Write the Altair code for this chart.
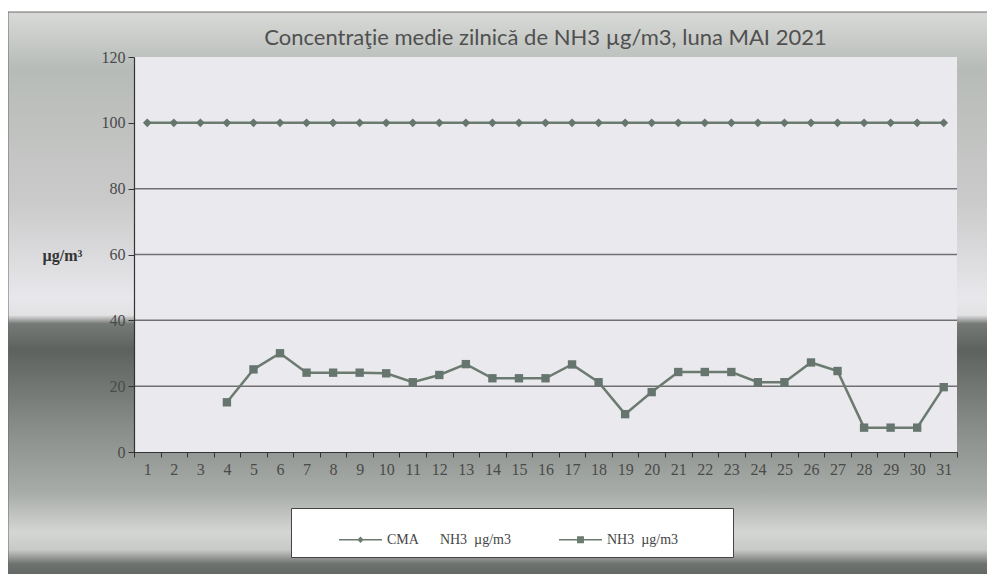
import altair as alt
import pandas as pd

# ---- data ----
days = [1, 2, 3, 4, 5, 6, 7, 8, 9, 10, 11, 12, 13, 14, 15, 16, 17, 18, 19, 20,
        21, 22, 23, 24, 25, 26, 27, 28, 29, 30, 31]
cma = [100, 100, 100, 100, 100, 100, 100, 100, 100, 100, 100, 100, 100, 100, 100, 100,
       100, 100, 100, 100, 100, 100, 100, 100, 100, 100, 100, 100, 100, 100, 100]
nh3 = [None, None, None, 15.1, 25.1, 30.0, 24.1, 24.1, 24.1, 23.9, 21.2, 23.4, 26.7,
       22.4, 22.4, 22.4, 26.6, 21.2, 11.5, 18.2, 24.3, 24.3, 24.3, 21.2, 21.2, 27.2,
       24.6, 7.4, 7.4, 7.4, 19.7]
y_ticks = [0, 20, 40, 60, 80, 100, 120]
grid_vals = [20, 40, 60, 80]
NB = "\u00a0"
name_cma = "CMA" + NB * 6 + "NH3" + NB * 2 + "µg/m3"
name_nh3 = "NH3" + NB * 2 + "µg/m3"
title_text = "Concentraţie medie zilnică de NH3 µg/m3, luna MAI 2021"
y_title = "µg/m³"

# ---- layout ----
W, H = 823, 395
PL, PT, PR, PB = 126, 49, 30, 122

line_col = "#6c7b70"
pt_col = "#66766f"

df = pd.DataFrame({
    "day": days + days,
    "value": cma + nh3,
    "series": [name_cma] * len(days) + [name_nh3] * len(days),
})
df_cma = df[df["series"] == name_cma]
df_nh3 = df[df["series"] == name_nh3]

X = alt.X(
    "day:O",
    scale=alt.Scale(type="band", paddingInner=0, paddingOuter=0, domain=days),
    axis=alt.Axis(
        title=None, labelAngle=0, tickBand="extent", grid=False,
        labelFont="Liberation Serif", labelFontSize=16, labelColor="#4a4a4a",
        domainColor="#333333", domainWidth=1.2, tickColor="#333333", tickSize=5,
        labelPadding=4, zindex=1,
    ),
)
Y = alt.Y(
    "value:Q",
    scale=alt.Scale(domain=[0, 120]),
    axis=alt.Axis(
        values=y_ticks, grid=False, title=y_title, titleAngle=0,
        titleFont="Liberation Serif", titleFontWeight="bold", titleFontSize=16,
        titleColor="#333333", titleX=-72, titleY=198, titleAlign="center",
        titleBaseline="middle",
        labelFont="Liberation Serif", labelFontSize=16, labelColor="#4a4a4a",
        domainColor="#333333", domainWidth=1.2, tickColor="#333333", tickSize=6,
        labelPadding=3, zindex=1,
    ),
)

gradient = {
    "gradient": "linear", "x1": 0, "y1": 0, "x2": 0, "y2": 1,
    "stops": [
        {"offset": 0.0, "color": "#d8dad7"},
        {"offset": 0.10, "color": "#b7bbb7"},
        {"offset": 0.33, "color": "#cacaca"},
        {"offset": 0.50, "color": "#e8e8ec"},
        {"offset": 0.530, "color": "#e2e2e4"},
        {"offset": 0.545, "color": "#767a76"},
        {"offset": 0.59, "color": "#5e625e"},
        {"offset": 0.73, "color": "#8a8e8a"},
        {"offset": 0.84, "color": "#a8aca8"},
        {"offset": 0.91, "color": "#d4d6d4"},
        {"offset": 0.94, "color": "#c8cac8"},
        {"offset": 0.965, "color": "#6e726e"},
        {"offset": 1.0, "color": "#5c605c"},
    ],
}

bg = alt.Chart(alt.Data(values=[{"k": 1}])).mark_rect(
    fill=gradient, stroke="#6a6a6a", strokeWidth=1
).encode(
    x=alt.value(-PL), x2=alt.value(W + PR + 10),
    y=alt.value(-PT + 4), y2=alt.value(H + PB + 10),
)

plot_bg = alt.Chart(alt.Data(values=[{"k": 1}])).mark_rect(
    fill="#eae9ee"
).encode(x=alt.value(0), x2=alt.value(W), y=alt.value(0), y2=alt.value(H))

grid = alt.Chart(alt.Data(values=[{"value": v} for v in grid_vals])).mark_rule(
    color="#707070", strokeWidth=1.5
).encode(y=Y)

cma_line = alt.Chart(df_cma).mark_line(color=line_col, strokeWidth=2.5).encode(x=X, y=Y)
cma_pts = alt.Chart(df_cma).mark_point(
    shape="diamond", filled=True, size=75, color=pt_col, opacity=1
).encode(x=X, y=Y)
nh3_line = alt.Chart(df_nh3).mark_line(color=line_col, strokeWidth=2.5).encode(x=X, y=Y)
nh3_pts = alt.Chart(df_nh3).mark_point(
    shape="square", filled=True, size=70, color=pt_col, opacity=1
).encode(x=X, y=Y)

# legend symbols: a thin bar (the line) plus the marker, all filled
path_cma = ("M-1,-0.035L1,-0.035L1,0.035L-1,0.035Z"
            "M0,-0.15L0.15,0L0,0.15L-0.15,0Z")
path_nh3 = ("M-1,-0.035L1,-0.035L1,0.035L-1,0.035Z"
            "M-0.16,-0.16L0.16,-0.16L0.16,0.16L-0.16,0.16Z")

legend_layer = alt.Chart(df).mark_point(
    filled=True, opacity=0, color=line_col
).encode(
    x=X, y=Y,
    shape=alt.Shape(
        "series:N",
        scale=alt.Scale(domain=[name_cma, name_nh3], range=[path_cma, path_nh3]),
        legend=alt.Legend(
            # a white (invisible on the white box) one-dot title on the right
            # only widens the box to the reference's right margin
            title=".", titleOrient="right", titleColor="white", titleFontSize=2,
            titlePadding=44,
            orient="none", legendX=157, legendY=451,
            direction="horizontal",
            fillColor="white", strokeColor="#444444",
            padding=10, symbolSize=1849, symbolOffset=38, columnPadding=10,
            labelOffset=5, labelFont="Liberation Serif", labelFontSize=14,
            labelColor="#444444", symbolFillColor=line_col,
            symbolStrokeColor=line_col, symbolStrokeWidth=0, symbolOpacity=1,
        ),
    ),
)

chart = alt.layer(
    bg, plot_bg, grid, cma_line, nh3_line, cma_pts, nh3_pts, legend_layer
).properties(
    width=W, height=H,
    padding={"left": PL, "top": PT, "right": PR, "bottom": PB},
    autosize=alt.AutoSizeParams(type="none"),
    title=alt.TitleParams(
        title_text, anchor="middle", frame="group", font="Lato", fontSize=22,
        fontWeight="normal", color="#505050", offset=8, dy=46,
    ),
).configure_view(stroke=None).configure(background="white")

chart.save("out.html", embed_options={"renderer": "svg", "actions": False})
